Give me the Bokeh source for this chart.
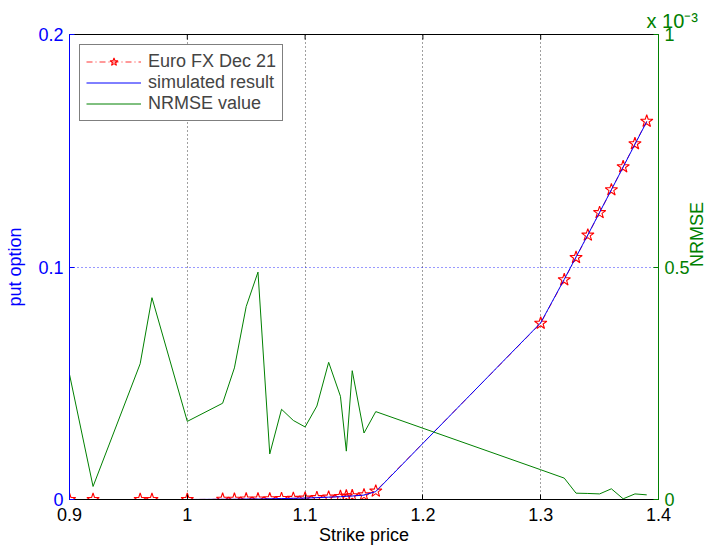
import math
from bokeh.plotting import figure
from bokeh.models import (Range1d, LinearAxis, FixedTicker, CustomJSTickFormatter,
                          Legend, LegendItem, Title)
from bokeh.embed import file_html
from bokeh.resources import INLINE

# ---- data ----
strike = [0.90, 0.92, 0.96, 0.97, 1.00, 1.03, 1.04, 1.05, 1.06, 1.07, 1.08, 1.09,
          1.10, 1.11, 1.12, 1.13, 1.135, 1.14, 1.15, 1.16,
          1.30, 1.32, 1.33, 1.34, 1.35, 1.36, 1.37, 1.38, 1.39]
market_put = [0.0, 0.0, 0.0, 0.0, 0.0, 0.0001, 0.0001, 0.0002, 0.0002, 0.0003, 0.0004,
              0.0005, 0.0006, 0.0008, 0.0010, 0.0013, 0.0015, 0.0016, 0.0020, 0.0036,
              0.0758, 0.0945, 0.1041, 0.1137, 0.1234, 0.1332, 0.1431, 0.1530, 0.1627]
simulated_put = [0.0, 0.0, 0.0, 0.0, 0.0, 0.0001, 0.0001, 0.0002, 0.0002, 0.0003, 0.0004,
                 0.0005, 0.0006, 0.0008, 0.0010, 0.0012, 0.0014, 0.0015, 0.0019, 0.0034,
                 0.0760, 0.0947, 0.1043, 0.1138, 0.1235, 0.1332, 0.1430, 0.1528, 0.1625]
# NRMSE in units of 1e-3
nrmse_e3 = [0.269, 0.028, 0.292, 0.434, 0.168, 0.207, 0.283, 0.415, 0.489, 0.098, 0.194,
            0.170, 0.156, 0.201, 0.295, 0.222, 0.104, 0.277, 0.143, 0.189,
            0.064, 0.046, 0.0136, 0.013, 0.012, 0.023, 0.0015, 0.012, 0.010]

x_ticks = [0.9, 1.0, 1.1, 1.2, 1.3, 1.4]
y_ticks = [0.0, 0.1, 0.2]
y2_ticks = [0.0, 0.5, 1.0]
y_top = [0.2, 0.2, 0.2, 0.2]

FONT = "Liberation Sans"
BLUE = "#0000ff"
GREEN = "#008000"
RED = "#ff0000"

fmt = CustomJSTickFormatter(code="return String(Number(tick.toFixed(3)));")

p = figure(frame_width=589, frame_height=465, output_backend="svg", toolbar_location=None,
           x_range=Range1d(0.9, 1.4), y_range=Range1d(0, 0.2),
           min_border_left=69, min_border_top=34, min_border_bottom=40, min_border_right=40)
p.outline_line_color = "black"
p.background_fill_color = "white"
p.border_fill_color = "white"

p.extra_y_ranges = {"nrmse": Range1d(0, 1)}

# Bottom axis
xa = p.xaxis[0]
xa.ticker = FixedTicker(ticks=x_ticks)
xa.formatter = fmt
xa.axis_label = "Strike price"
xa.axis_line_color = "black"
xa.major_tick_line_color = "black"
xa.major_label_text_color = "black"
xa.axis_label_text_color = "black"

# Left axis
ya = p.yaxis[0]
ya.ticker = FixedTicker(ticks=y_ticks)
ya.formatter = fmt
ya.axis_label = "put option"
ya.axis_line_color = BLUE
ya.major_tick_line_color = BLUE
ya.major_label_text_color = BLUE
ya.axis_label_text_color = BLUE
ya.axis_label_standoff = 10

# Right axis
ra = LinearAxis(y_range_name="nrmse", ticker=FixedTicker(ticks=y2_ticks), formatter=fmt,
                axis_label="NRMSE")
ra.axis_line_color = GREEN
ra.major_tick_line_color = GREEN
ra.major_label_text_color = GREEN
ra.axis_label_text_color = GREEN
ra.axis_label_standoff = 4
ra.axis_label_orientation = math.pi / 2
p.add_layout(ra, "right")

for ax in [xa, ya, ra]:
    ax.major_tick_in = 5
    ax.major_tick_out = 0
    ax.minor_tick_line_color = None
    ax.major_label_text_font = FONT
    ax.axis_label_text_font = FONT
    ax.axis_label_text_font_style = "normal"
    ax.axis_line_width = 1
    ax.major_label_text_font_size = "18px"
    ax.axis_label_text_font_size = "18px"
    ax.major_label_standoff = 6
xa.major_label_standoff = 8
xa.axis_label_standoff = 1

# Exponent note above the right axis
exp_title = Title(text="x 10\u207b\u00b3", align="left", offset=577, standoff=6,
                  text_color=GREEN, text_font=FONT, text_font_size="20px",
                  text_font_style="normal")
p.add_layout(exp_title, "above")

# Grid
p.xgrid.ticker = FixedTicker(ticks=x_ticks[1:-1])
p.xgrid.grid_line_color = "black"
p.xgrid.grid_line_alpha = 0.75
p.xgrid.grid_line_dash = "1 3"
p.ygrid.ticker = FixedTicker(ticks=[0.1])
p.ygrid.grid_line_color = BLUE
p.ygrid.grid_line_alpha = 0.8
p.ygrid.grid_line_dash = "1 3"

# Top-edge inward ticks (half of each dash is clipped by the frame)
p.scatter(x_ticks[1:-1], y_top, marker="dash", angle=math.pi / 2, size=10,
          line_color="black", line_width=1)

# Glyphs
red_line = p.line(strike, market_put, line_color=RED, line_width=1, line_dash="6 3 1 3",
                  line_alpha=0.8)
red_star = p.scatter(strike, market_put, marker="star", size=13, line_color=RED,
                     fill_color="white", fill_alpha=0.0, line_width=1.1)
blue_line = p.line(strike, simulated_put, line_color=BLUE, line_width=1)
green_line = p.line(strike, nrmse_e3, line_color=GREEN, line_width=1, y_range_name="nrmse")

legend = Legend(items=[
    LegendItem(label="Euro FX Dec 21", renderers=[red_line, red_star]),
    LegendItem(label="simulated result", renderers=[blue_line]),
    LegendItem(label="NRMSE value", renderers=[green_line]),
], location="top_left")
legend.margin = 10
legend.padding = 6
legend.spacing = 0
legend.glyph_width = 55
legend.glyph_height = 21
legend.label_height = 21
legend.label_standoff = 7
legend.label_text_font = FONT
legend.label_text_font_size = "18px"
legend.border_line_color = "black"
legend.border_line_width = 1
legend.background_fill_color = "white"
legend.background_fill_alpha = 1.0
p.add_layout(legend, "center")

open("out.html", "w").write(file_html(p, INLINE))
